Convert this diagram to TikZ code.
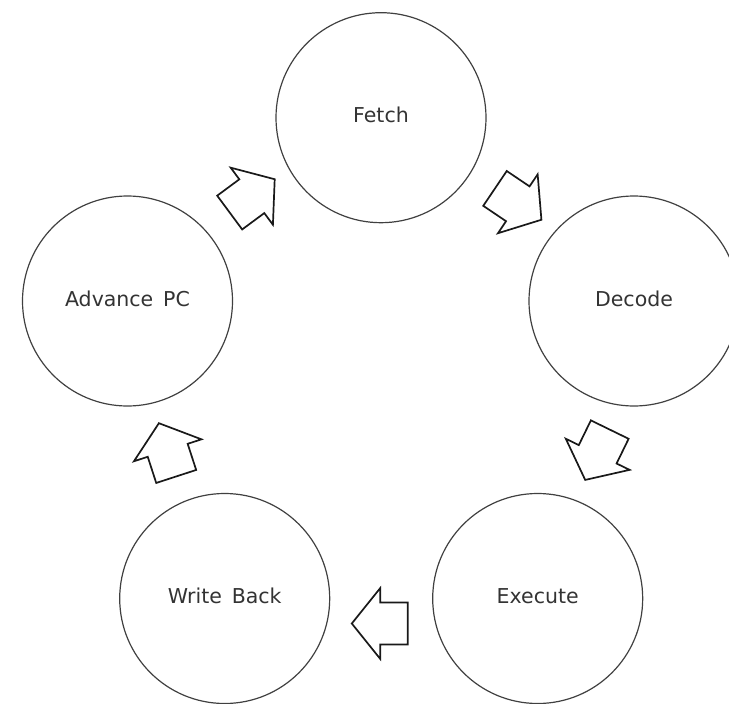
\documentclass[tikz,border=0pt]{standalone}
\usepackage{fontspec}
\setmainfont{DejaVu Sans}
\begin{document}
\begin{tikzpicture}[x=1pt,y=-1pt,
  stage/.style={circle, draw=black!75, line width=1.2pt, minimum size=210pt,
    inner sep=0pt, text depth=5pt, font=\fontsize{20.5pt}{24pt}\selectfont, text=black!80},
  arrowline/.style={draw=black!90, line width=1.7pt, line join=miter, fill=white},
  pics/blockarrow/.style={code={
    \draw[arrowline] (-27.5,-21) -- (0,-21) -- (0,-35.5) -- (28.5,0)
      -- (0,35.5) -- (0,21) -- (-27.5,21) -- cycle;}}]
\useasboundingbox (0,0) rectangle (729,704);
\clip (0,0) rectangle (729,704);

% the five stages of the cycle
\node[stage] (fetch)   at (381,117.7) {Fetch};
\node[stage] (decode)  at (634,301)   {Decode};
\node[stage] (execute) at (537.7,598.5) {Execute};
\node[stage] (wback)   at (224.7,598.5) {Write\, Back};
\node[stage] (advpc)   at (127.5,301)   {Advance\, PC};

% hollow block arrows between consecutive stages
\pic[rotate=36.5]  at (251.8,196.2) {blockarrow};
\pic[rotate=-34]   at (517.8,203.8) {blockarrow};
\pic[rotate=-116]  at (597.7,454.3) {blockarrow};
\pic[rotate=180]   at (380.3,623.5) {blockarrow};
\pic[rotate=108]   at (167.7,450.3) {blockarrow};
\end{tikzpicture}
\end{document}
